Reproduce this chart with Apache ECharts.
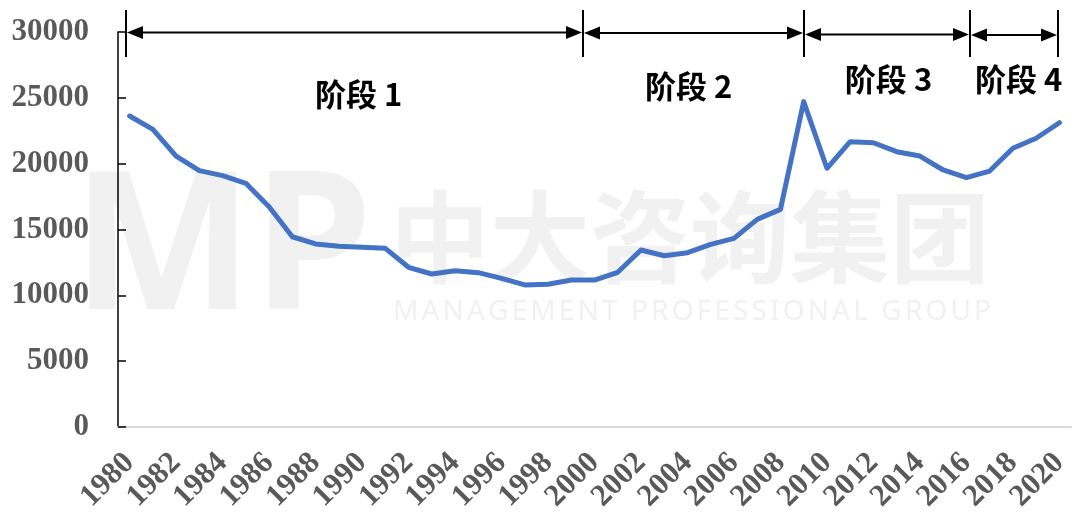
<!DOCTYPE html>
<html><head><meta charset="utf-8">
<script src="https://cdn.jsdelivr.net/npm/echarts@6/dist/echarts.min.js"></script>
<style>html,body{margin:0;padding:0;background:#fff}#c{width:1080px;height:512px}</style>
</head><body><div id="c"></div>
<script>
// ---- data ----
const years = ['1980','1981','1982','1983','1984','1985','1986','1987','1988','1989',
  '1990','1991','1992','1993','1994','1995','1996','1997','1998','1999',
  '2000','2001','2002','2003','2004','2005','2006','2007','2008','2009',
  '2010','2011','2012','2013','2014','2015','2016','2017','2018','2019','2020'];
const values = [23620,22610,20580,19470,19090,18510,16730,14450,13900,13720,
  13650,13570,12130,11620,11870,11720,11290,10790,10840,11160,
  11160,11750,13440,13010,13240,13870,14330,15770,16530,24710,
  19650,21670,21590,20910,20580,19520,18940,19440,21170,21930,23110];
const yMin = 0, yMax = 30000, yStep = 5000;
const stageNames = ['阶段 1','阶段 2','阶段 3','阶段 4'];
// stage boundaries and label centres, in (fractional) years
const stageBounds = [1979.85, 1999.5, 2009.0, 2016.15, 2019.95];
const stageLabelAt = [1989.85, 2004.05, 2012.65, 2018.25];
const watermarkCN = '中大咨询集团';
const watermarkEN = 'MANAGEMENT PROFESSIONAL GROUP';
const watermarkLogo = 'MP';

// ---- layout / style (not data) ----
const arrowDy = [0.5, 1, 2.5, 3];
const labelDy = [62, 54, 47, 47];
const serif = '"Liberation Serif","Times New Roman",serif';
const cjk = '"Noto Sans CJK SC","Noto Sans",sans-serif';

const chart = echarts.init(document.getElementById('c'), null, {renderer: 'canvas'});
chart.setOption({
  backgroundColor: '#fff',
  animation: false,
  grid: {left: 118, top: 32, width: 953, height: 395, containLabel: false, outerBoundsMode: 'none'},
  xAxis: {
    type: 'category', data: years, boundaryGap: true,
    axisLine: {lineStyle: {color: '#d9d9d9', width: 2}},
    axisTick: {show: false},
    axisLabel: {interval: 1, rotate: 45, margin: 31, color: '#595959',
      fontFamily: serif, fontWeight: 'bold', fontSize: 31}
  },
  yAxis: {
    type: 'value', min: yMin, max: yMax, interval: yStep,
    splitLine: {show: false},
    axisLine: {show: true, lineStyle: {color: '#000', width: 1.5}},
    axisTick: {show: true, inside: true, length: 8, lineStyle: {color: '#000', width: 1.5}},
    axisLabel: {margin: 29, color: '#595959', fontFamily: serif, fontWeight: 'bold', fontSize: 31,
      formatter: v => String(v)}
  },
  series: [{
    type: 'line', data: values, symbol: 'none', z: 5,
    lineStyle: {color: '#4472C4', width: 5, cap: 'round', join: 'round'}
  }]
});

const p0 = chart.convertToPixel({xAxisIndex: 0}, 0);
const pN = chart.convertToPixel({xAxisIndex: 0}, years.length - 1);
const y0 = +years[0], yN = +years[years.length - 1];
const xPix = yr => p0 + (pN - p0) * (yr - y0) / (yN - y0);
const yTop = chart.convertToPixel({yAxisIndex: 0}, yMax);

const g = [];
// watermark
const wmColor = '#f1f1f1';
g.push({type: 'text', z: 0, style: {text: watermarkLogo, x: 72, y: 254, textAlign: 'left', textVerticalAlign: 'middle',
  font: 'bold 192px "Noto Sans",sans-serif', fill: wmColor}});
g.push({type: 'text', z: 0, style: {text: watermarkCN, x: 390, y: 237, textAlign: 'left', textVerticalAlign: 'middle',
  font: 'bold 100px "Noto Sans CJK SC",sans-serif', fill: wmColor}});
// letter-spaced english line
(function(){
  const cv = document.createElement('canvas').getContext('2d');
  const f = '28px "Noto Sans",sans-serif';
  cv.font = f;
  const chars = watermarkEN.split('');
  const ws = chars.map(c => cv.measureText(c).width);
  const total = ws.reduce((a,b)=>a+b,0);
  const x0 = 393, x1 = 991;
  const sp = (x1 - x0 - total) / (chars.length - 1);
  let x = x0;
  chars.forEach((c, i) => {
    g.push({type: 'text', z: 0, style: {text: c, x: x, y: 312, textAlign: 'left', textVerticalAlign: 'middle', font: f, fill: wmColor}});
    x += ws[i] + sp;
  });
})();

// stage markers
stageBounds.forEach(b => {
  const x = Math.round(xPix(b));
  g.push({type: 'line', z: 10, shape: {x1: x, y1: yTop - 22, x2: x, y2: yTop + 25}, style: {stroke: '#000', lineWidth: 2}});
});
for (let i = 0; i < stageNames.length; i++) {
  const xa = Math.round(xPix(stageBounds[i])) + 1, xb = Math.round(xPix(stageBounds[i + 1])) - 1;
  const y = yTop + arrowDy[i];
  g.push({type: 'line', z: 10, shape: {x1: xa + 8, y1: y, x2: xb - 8, y2: y}, style: {stroke: '#000', lineWidth: 2}});
  g.push({type: 'polygon', z: 10, shape: {points: [[xa, y], [xa + 16, y - 6.5], [xa + 16, y + 6.5]]}, style: {fill: '#000'}});
  g.push({type: 'polygon', z: 10, shape: {points: [[xb, y], [xb - 16, y - 6.5], [xb - 16, y + 6.5]]}, style: {fill: '#000'}});
  g.push({type: 'text', z: 10, style: {text: stageNames[i], x: xPix(stageLabelAt[i]), y: yTop + labelDy[i],
    textAlign: 'center', textVerticalAlign: 'middle', font: 'bold 31px ' + cjk, fill: '#000'}});
}
chart.setOption({graphic: {elements: g}});
</script>
</body></html>
